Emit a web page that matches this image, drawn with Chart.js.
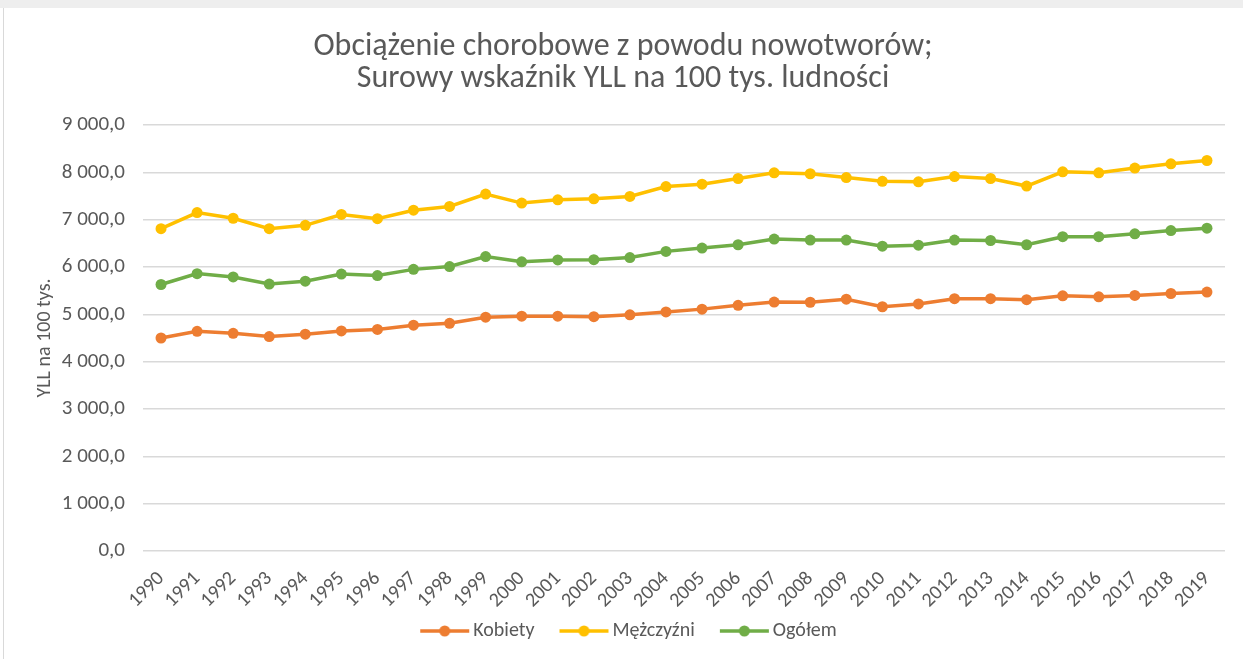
<!DOCTYPE html>
<html>
<head>
<meta charset="utf-8">
<script src="https://cdn.jsdelivr.net/npm/chart.js@4"></script>
<style>
  html, body { margin: 0; padding: 0; background: #fff; }
  #frame { position: absolute; left: 0; top: 0; width: 1243px; height: 659px; overflow: hidden; }
  #topband { position: absolute; left: 0; top: 0; width: 1243px; height: 8px; background: #eeeeee; }
  #leftline { position: absolute; left: 3px; top: 8px; width: 1px; height: 651px; background: #d9d9d9; }
  #wrap { position: absolute; left: 0; top: 0; width: 1243px; height: 659px; }
</style>
</head>
<body>
<div id="frame">
  <div id="topband"></div>
  <div id="leftline"></div>
  <div id="wrap"><canvas id="chart" width="1243" height="659"></canvas></div>
</div>
<script>
// Data
const years = ['1990', '1991', '1992', '1993', '1994', '1995', '1996', '1997', '1998', '1999',
  '2000', '2001', '2002', '2003', '2004', '2005', '2006', '2007', '2008', '2009',
  '2010', '2011', '2012', '2013', '2014', '2015', '2016', '2017', '2018', '2019'];
const kobiety = [4500, 4640, 4600, 4530, 4580, 4650, 4680, 4770, 4810, 4940,
  4960, 4960, 4950, 4990, 5050, 5110, 5190, 5260, 5255, 5320,
  5160, 5220, 5330, 5330, 5310, 5390, 5370, 5400, 5440, 5470];
const mezczyzni = [6810, 7150, 7030, 6810, 6880, 7110, 7020, 7200, 7280, 7540,
  7350, 7420, 7440, 7490, 7700, 7750, 7870, 7990, 7970, 7890,
  7810, 7800, 7910, 7870, 7710, 8010, 7990, 8090, 8180, 8250];
const ogolem = [5630, 5860, 5790, 5640, 5700, 5850, 5820, 5950, 6010, 6220,
  6110, 6150, 6155, 6200, 6330, 6400, 6470, 6590, 6570, 6570,
  6440, 6460, 6570, 6560, 6470, 6640, 6640, 6700, 6770, 6820];
const yTicks = [0, 1000, 2000, 3000, 4000, 5000, 6000, 7000, 8000, 9000];

const FONT = '"Carlito", "Liberation Sans Narrow", "Open Sans", sans-serif';
const TEXT = '#595959';
const colors = { kobiety: '#ED7D31', mezczyzni: '#FFC000', ogolem: '#70AD47' };

function fmt(v) {
  const s = Math.round(v).toString();
  const grouped = s.replace(/\B(?=(\d{3})+(?!\d))/g, ' ');
  return grouped + ',0';
}

// legend marker: line with a dot in the middle, pushed to the right of the box
function legendMarker(color) {
  const c = document.createElement('canvas');
  c.width = 68; c.height = 14;
  const g = c.getContext('2d');
  g.strokeStyle = color; g.lineWidth = 3.5;
  g.beginPath(); g.moveTo(18, 7); g.lineTo(67, 7); g.stroke();
  g.fillStyle = color;
  g.beginPath(); g.arc(42.5, 7, 5.5, 0, Math.PI * 2); g.fill();
  return c;
}

function series(label, data, color) {
  return {
    label: label,
    data: data,
    borderColor: color,
    backgroundColor: color,
    borderWidth: 3.5,
    pointRadius: 5.5,
    pointBackgroundColor: color,
    pointBorderColor: color,
    pointBorderWidth: 0,
    tension: 0,
    fill: false
  };
}

new Chart(document.getElementById('chart').getContext('2d'), {
  type: 'line',
  data: {
    labels: years,
    datasets: [
      series('Kobiety', kobiety, colors.kobiety),
      series('Mężczyźni', mezczyzni, colors.mezczyzni),
      series('Ogółem', ogolem, colors.ogolem)
    ]
  },
  options: {
    responsive: false,
    animation: false,
    layout: { padding: { left: 21, right: 18, top: 12, bottom: 8 } },
    plugins: {
      tooltip: { enabled: false },
      title: {
        display: true,
        text: ['Obciążenie chorobowe z powodu nowotworów;', 'Surowy wskaźnik YLL na 100 tys. ludności'],
        color: TEXT,
        font: { family: FONT, size: 32, weight: 'normal', lineHeight: 1.0 },
        padding: { top: 19, bottom: 30 }
      },
      legend: {
        position: 'bottom',
        labels: {
          color: TEXT,
          font: { family: FONT, size: 20 },
          usePointStyle: true,
          pointStyleWidth: 54,
          padding: 14,
          generateLabels: function(chart) {
            return chart.data.datasets.map(function(ds, i) {
              return {
                text: ds.label,
                fillStyle: ds.borderColor,
                strokeStyle: ds.borderColor,
                pointStyle: legendMarker(ds.borderColor),
                fontColor: TEXT,
                lineWidth: 0,
                hidden: false,
                datasetIndex: i
              };
            });
          }
        }
      }
    },
    scales: {
      x: {
        offset: true,
        afterFit: function(scale) { scale.height = 56; },
        grid: { display: false },
        border: { display: false },
        ticks: {
          color: TEXT,
          font: { family: FONT, size: 20 },
          maxRotation: 45,
          minRotation: 45,
          autoSkip: false,
          padding: 8
        }
      },
      y: {
        min: 0,
        max: 9000,
        afterBuildTicks: function(scale) {
          scale.ticks = yTicks.map(function(v) { return { value: v }; });
        },
        afterFit: function(scale) { scale.width = 122; },
        title: {
          display: true,
          text: 'YLL na 100 tys.',
          color: TEXT,
          font: { family: FONT, size: 20 },
          padding: { top: 12, bottom: 4 }
        },
        grid: { color: '#d9d9d9', lineWidth: 1.5, drawTicks: false },
        border: { display: false },
        ticks: {
          color: TEXT,
          font: { family: FONT, size: 21 },
          padding: 18,
          callback: function(v) { return fmt(v); }
        }
      }
    }
  }
});
</script>
</body>
</html>
